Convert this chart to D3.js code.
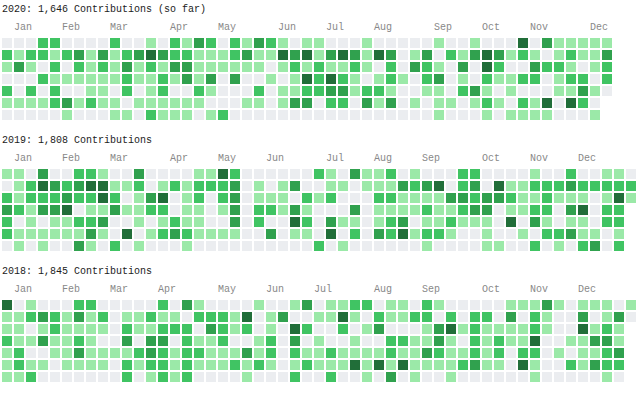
<!DOCTYPE html>
<html>
<head>
<meta charset="utf-8">
<style>
  body { margin: 0; background: #fff; }
  svg { display: block; font-family: "Liberation Mono", "DejaVu Sans Mono", monospace; font-size: 10px; }
  .title { fill: #222; }
  .month { fill: #888; }
</style>
</head>
<body>
<script src="https://cdn.jsdelivr.net/npm/d3@7"></script>
<script>
var years = [2020, 2019, 2018];
var totals = [1646, 1808, 1845];
var notes = [" (so far)", "", ""];
var months = ["Jan", "Feb", "Mar", "Apr", "May", "Jun", "Jul", "Aug", "Sep", "Oct", "Nov", "Dec"];

// one string per weekday (Sun..Sat), one digit per week column = contribution level 0-4
var levels2020 = [
  "000220000200102132" + "02132101100010000" + "0100100040311111",
  "212212313123432211" + "12311434134314301" + "3021343121012113",
  "131020212131213311" + "11110121211210203" + "2103042003221012",
  "000211111121121313" + "03001014242101210" + "2301021122012202",
  "202020011020120021" + "00020112233122100" + "1102310100011310",
  "111123121101111110" + "00110133022031301" + "011012102140420",
  "000001000110211101" + "20000000000000000" + "010001011110001"
];
var levels2019 = [
  "110300221003000011" + "42000000210311201" + "000220000100200110",
  "012432344112012122" + "23010130011011132" + "340230411222322222",
  "212223224201340120" + "23011102120002211" + "113323321121110141",
  "321334011311220110" + "13022131000301111" + "21123301122034022",
  "201011223001012110" + "03020042031101230" + "11211104031011022",
  "211111131040123211" + "11003011040203241" + "22100100102231101",
  "010100310201000100" + "00000000201000000" + "10000110020102302"
];
var levels2018 = [
  "401000220000020310" + "00010013011220110" + "210000011131011101",
  "112321312011211022" + "21401300114102112" + "202022030210030130",
  "110121111021122203" + "21201042002013000" + "13412111121004121",
  "211311210030330211" + "20012030100100221" + "13102121140011331",
  "120011311112321221" + "11312021121111211" + "32112120220101123",
  "121101111021221211" + "12121012111414141" + "11123110410021322",
  "112000000020121200" + "00100020020010301" + "00100000010000010"
];
var levels = [levels2020, levels2019, levels2018];

var colors = ["#ebedf0", "#9be9a8", "#40c463", "#30a14e", "#216e39"];

var width = 644, height = 396, blockHeight = 131;

var x = d3.scaleBand().domain(d3.range(53)).range([2, 636]).paddingInner(1 / 6);
var y = d3.scaleBand().domain(d3.range(7)).range([38, 120]).paddingInner(1 / 6);
var color = d3.scaleOrdinal().domain([0, 1, 2, 3, 4]).range(colors);
var fmt = d3.format(",");

var svg = d3.select("body").append("svg")
    .attr("width", width)
    .attr("height", height);

var block = svg.selectAll("g.year")
    .data(years)
  .enter().append("g")
    .attr("class", "year")
    .attr("transform", function(d, i) { return "translate(0," + (i * blockHeight) + ")"; });

block.append("text")
    .attr("class", "title")
    .attr("x", 2)
    .attr("y", 12)
    .text(function(d, i) { return d + ": " + fmt(totals[i]) + " Contributions" + notes[i]; });

// month label sits over the first full week of the month
block.each(function(year, i) {
  var g = d3.select(this);
  var start = d3.utcSunday.floor(new Date(Date.UTC(year, 0, 1)));

  g.selectAll("text.month")
      .data(months)
    .enter().append("text")
      .attr("class", "month")
      .attr("x", function(m, k) {
        var first = d3.utcSunday.ceil(new Date(Date.UTC(year, k, 1)));
        return x(d3.utcSunday.count(start, first));
      })
      .attr("y", 30)
      .text(function(m) { return m; });

  var cells = [];
  levels[i].forEach(function(row, day) {
    row.split("").forEach(function(c, week) {
      cells.push({ week: week, day: day, level: +c });
    });
  });

  g.selectAll("rect")
      .data(cells)
    .enter().append("rect")
      .attr("x", function(c) { return x(c.week); })
      .attr("y", function(c) { return y(c.day); })
      .attr("width", x.bandwidth())
      .attr("height", y.bandwidth())
      .attr("fill", function(c) { return color(c.level); });
});
</script>
</body>
</html>
